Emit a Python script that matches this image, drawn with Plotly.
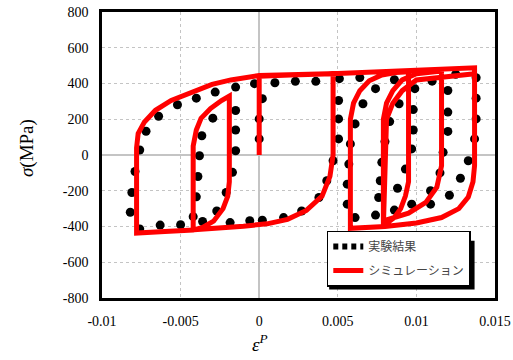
import plotly.graph_objects as go

# ---------------- data ----------------
# experimental points (plastic strain, stress MPa)
exp_strain = [
    0.0000, 0.0000, 0.0002,
    0.0010, 0.0023, 0.0036, 0.0051,
    0.00505, 0.00505, 0.00505, 0.0047, 0.0043, 0.0038, 0.0027, 0.00155, 0.0002, -0.0006, -0.00185,
    -0.0042, -0.0040, -0.0039, -0.0038, -0.00365, -0.00295,
    -0.0015, -0.0015, -0.0015, -0.0017, -0.0021, -0.0027, -0.0036,
    -0.0050, -0.0063, -0.0076,
    -0.0082, -0.0081, -0.0079, -0.0076, -0.0072, -0.0064, -0.0052, -0.0040, -0.0028, -0.0015, -0.0003,
    0.0064, 0.0086, 0.0110, 0.0125, 0.0138,
    0.0138, 0.0138, 0.0137, 0.0133, 0.0128, 0.0121, 0.0109, 0.0097, 0.0086, 0.0074, 0.0061,
    0.0056, 0.0056, 0.0057, 0.0058, 0.0061, 0.0066, 0.0074,
    0.0076, 0.0077, 0.0078, 0.0080, 0.0083, 0.0089,
    0.0099, 0.0098, 0.0098, 0.0097, 0.0093, 0.0088,
    0.0120, 0.0120, 0.0120, 0.0117, 0.0115, 0.0109,
]
exp_stress = [
    90, 202, 315,
    404, 412, 412, 427,
    305, 202, 90, -32, -144, -238, -313, -350, -365, -368, -378,
    -345, -234, -120, -4, 108, 206,
    249, 140, 24, -97, -210, -313, -372,
    -390, -392, -414,
    -320, -210, -92, 28, 133, 217, 281, 318, 352, 380, 399,
    433, 421, 413, 452, 432,
    318, 202, 90, -32, -130, -225, -275, -275, -308, -336, -350,
    -275, -163, -51, 62, 174, 287, 371,
    -238, -144, -41, 75, 187, 287,
    371, 254, 140, 34, -79, -186,
    361, 240, 132, 15, -100, -200,
]

# simulation path (plastic strain, stress MPa), in loading order
sim_strain = [
    0.0, 0.0, 0.0020, 0.0047,
    0.0047, 0.0045, 0.0040, 0.0030, 0.0018, 0.0005, -0.0010, -0.0025, -0.0042,
    -0.0042, -0.0040, -0.0037, -0.0031, -0.0024, -0.0019,
    -0.0019, -0.0020, -0.0023, -0.0029, -0.0036, -0.0042, -0.0060, -0.0078,
    -0.0078, -0.0077, -0.0073, -0.0066, -0.0056, -0.0044, -0.0030, -0.0018, 0.0, 0.0050, 0.0137,
    0.0137, 0.0136, 0.0133, 0.0127, 0.0116, 0.0100, 0.0080, 0.0060,
    0.0058, 0.0058, 0.0060, 0.0064, 0.0070, 0.0078, 0.0087, 0.0095,
    0.0095, 0.0095, 0.0093, 0.0090, 0.0086, 0.0082, 0.0079,
    0.0079, 0.0079, 0.0081, 0.0085, 0.0091, 0.0100, 0.0116,
    0.0116, 0.0116, 0.0113, 0.0106, 0.0095, 0.0079,
    0.0079, 0.0079, 0.0081, 0.0085, 0.0091, 0.0100, 0.0137,
]
sim_stress = [
    0, 440, 448, 455,
    0, -120, -230, -310, -360, -385, -398, -408, -418,
    50, 140, 205, 260, 305, 330,
    -150, -230, -300, -370, -405, -420, -428, -437,
    40, 120, 185, 250, 305, 350, 395, 420, 445, 456, 488,
    -60, -150, -235, -300, -350, -380, -400, -415,
    -410, 200, 290, 360, 415, 448, 462, 466,
    -60, -150, -230, -300, -350, -380, -395,
    -395, 200, 290, 360, 420, 455, 470, 478,
    -60, -180, -265, -325, -368, -395,
    -395, 200, 290, 360, 420, 455, 488,
]

x_ticks = [-0.01, -0.005, 0, 0.005, 0.01, 0.015]
x_ticktext = ["-0.01", "-0.005", "0", "0.005", "0.01", "0.015"]
y_ticks = [-800, -600, -400, -200, 0, 200, 400, 600, 800]
y_ticktext = ["-800", "-600", "-400", "-200", "0", "200", "400", "600", "800"]

legend_names = ["実験結果", "シミュレーション"]

# ---------------- figure ----------------
fig = go.Figure()

fig.add_trace(go.Scatter(
    x=exp_strain, y=exp_stress, mode="markers",
    marker=dict(color="black", size=9),
    showlegend=False, hoverinfo="skip",
))
fig.add_trace(go.Scatter(
    x=sim_strain, y=sim_stress, mode="lines",
    line=dict(color="#ff0000", width=5),
    showlegend=False, hoverinfo="skip",
))
# legend entries
fig.add_trace(go.Scatter(
    x=[None], y=[None], mode="lines", name=legend_names[0],
    line=dict(color="black", width=6, dash="5px,4px"),
    legendgroup="exp",
))
fig.add_trace(go.Scatter(
    x=[None], y=[None], mode="lines", name=legend_names[1],
    line=dict(color="#ff0000", width=5),
    legendgroup="sim",
))

serif = "Liberation Serif, Times New Roman, serif"

fig.update_layout(
    width=513, height=360,
    margin=dict(l=102, r=18, t=12, b=62),
    paper_bgcolor="white", plot_bgcolor="white",
    font=dict(family=serif, size=14, color="black"),
    xaxis=dict(
        range=[-0.01, 0.015], tickvals=x_ticks, ticktext=x_ticktext,
        showgrid=True, gridcolor="#c4c4c4", griddash="dot", gridwidth=1,
        zeroline=True, zerolinecolor="#c4c4c4", zerolinewidth=1.5,
        showline=True, mirror=True, linecolor="black", linewidth=2.5,
        ticks="", ticklabelstandoff=8, automargin=False,
        tickfont=dict(family=serif, size=14, color="black"),
    ),
    yaxis=dict(
        range=[-800, 800], tickvals=y_ticks, ticktext=y_ticktext,
        showgrid=True, gridcolor="#c4c4c4", griddash="dot", gridwidth=1,
        zeroline=True, zerolinecolor="#c4c4c4", zerolinewidth=1.5,
        showline=True, mirror=True, linecolor="black", linewidth=2.5,
        ticks="", ticklabelstandoff=8, automargin=False,
        tickfont=dict(family=serif, size=14, color="black"),
    ),
    legend=dict(
        x=0.572, y=0.04, xanchor="left", yanchor="bottom",
        bgcolor="white", bordercolor="black", borderwidth=1.5,
        font=dict(family="Noto Sans CJK JP", size=12, color="#444444"),
        traceorder="grouped", tracegroupgap=5,
    ),
    shapes=[
        dict(type="rect", xref="paper", yref="paper",
             x0=0.578, x1=0.948, y0=0.03, y1=0.2,
             fillcolor="black", line=dict(width=0), layer="above"),
    ],
    annotations=[
        dict(text="<i>σ</i>(MPa)", xref="paper", yref="paper",
             x=-0.191, y=0.524, xanchor="center", yanchor="middle",
             textangle=-90, showarrow=False,
             font=dict(family=serif, size=19, color="black")),
        dict(text="<i>ε</i><sup><i>P</i></sup>", xref="paper", yref="paper",
             x=0.402, y=-0.157, xanchor="center", yanchor="middle",
             showarrow=False,
             font=dict(family=serif, size=19, color="black")),
    ],
)

fig.write_html("out.html", config={"displayModeBar": False},
               post_script="document.body.style.margin='0px';")
